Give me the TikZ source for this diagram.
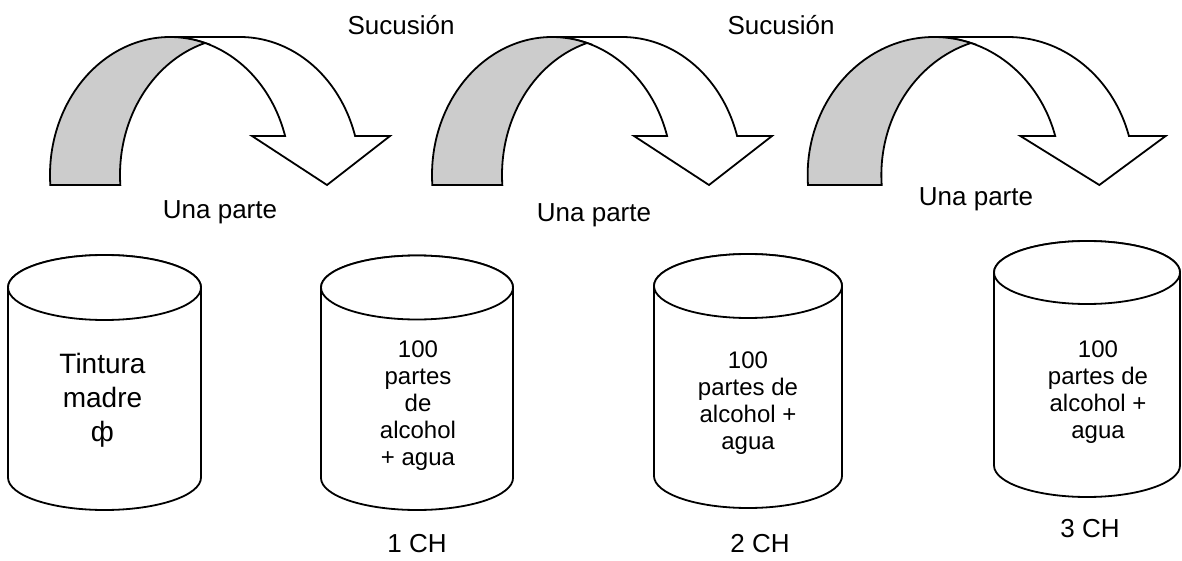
\documentclass[tikz,border=0pt]{standalone}
\usepackage{fontspec}
\setmainfont{Liberation Sans}
\newcommand{\curvedarr}[2]{%
  \begin{scope}[shift={(#1,0)}, xscale=#2]
    % front (white) face
    \filldraw[arrbody, fill=white]
      plot[domain=286.96:343.58] ({120*cos(\t)},{175+138*sin(\t)})
      -- (82,136) -- (157,185) -- (220,136)
      -- plot[domain=343.58:270] ({70+120*cos(\t)},{175+138*sin(\t)})
      -- (0,37)
      -- plot[domain=270:286.96] ({120*cos(\t)},{175+138*sin(\t)})
      -- cycle;
    % back (grey) face
    \filldraw[arrbody, fill=black!20]
      plot[domain=175.845:286.96] ({120*cos(\t)},{175+138*sin(\t)})
      -- plot[domain=253.04:175.845] ({70+120*cos(\t)},{175+138*sin(\t)})
      -- cycle;
  \end{scope}}
\newcommand{\cylshape}[5]{%
  \filldraw[cylbody] (#1-#2,#3) -- (#1-#2,#4)
    arc[start angle=180, end angle=360, x radius=#2pt, y radius=#5pt]
    -- (#1+#2,#3)
    arc[start angle=0, end angle=180, x radius=#2pt, y radius=#5pt] -- cycle;
  \draw[cylbody] (#1,#3) ellipse[x radius=#2pt, y radius=#5pt];}
\begin{document}
\begin{tikzpicture}[x=1pt, y=-1pt,
  arrbody/.style={draw=black, line width=1.8pt, line join=miter, smooth, samples=60, variable=\t},
  cylbody/.style={draw=black, fill=white, line width=1.8pt},
  lbl/.style={inner sep=0pt, anchor=base, font=\fontsize{26}{31}\selectfont},
  intext/.style={inner sep=0pt, align=center, font=\fontsize{24}{27}\selectfont},
  bigtext/.style={inner sep=0pt, align=center, font=\fontsize{28}{34}\selectfont}]
\useasboundingbox (0,0) rectangle (1182,561);
\fill[white] (0,0) rectangle (1182,561);

% curved arrows
\curvedarr{170}{1}
\curvedarr{552}{1}
\curvedarr{934}{1.053}

% cylinders
\cylshape{104.5}{96.5}{287.5}{477.5}{32.5}
\cylshape{417}{96}{287.5}{478}{32}
\cylshape{748}{94}{286}{476}{32}
\cylshape{1087}{93}{272.5}{465.5}{31.5}

% labels
\node[lbl] (suc1) at (401,35) {Sucusión};
\node[lbl] (suc2) at (781,35) {Sucusión};
\node[lbl] (una1) at (220,219) {Una parte};
\node[lbl] (una2) at (594,222) {Una parte};
\node[lbl] (una3) at (976,206) {Una parte};

\node[bigtext] (t0) at (102.5,400) {Tintura\\madre\\ф};
\node[intext] (t1) at (418,406) {100\\partes\\de\\alcohol\\+ agua};
\node[intext] (t2) at (748,403) {100\\partes de\\alcohol +\\agua};
\node[intext] (t3) at (1098,392) {100\\partes de\\alcohol +\\agua};

\node[lbl] (ch1) at (417,552) {1 CH};
\node[lbl] (ch2) at (760,552) {2 CH};
\node[lbl] (ch3) at (1090,537) {3 CH};
\end{tikzpicture}
\end{document}
